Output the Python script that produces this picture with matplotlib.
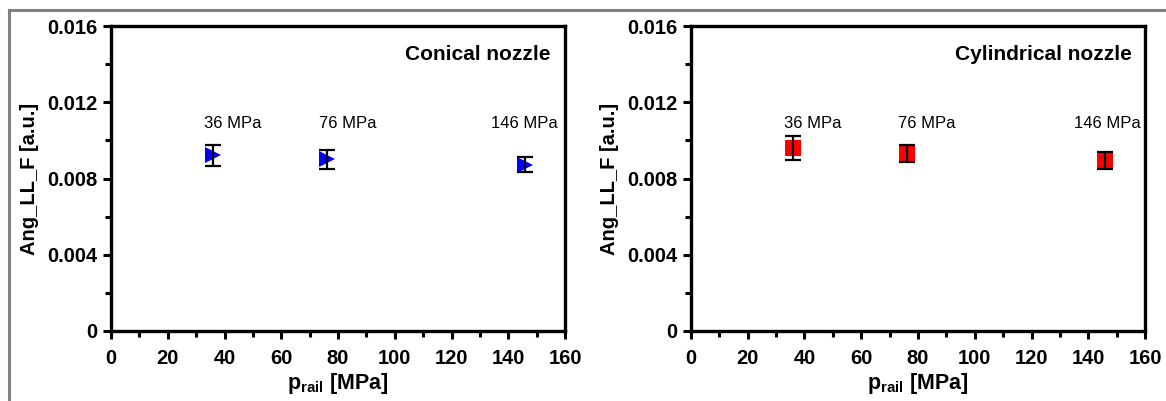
import matplotlib
matplotlib.use("Agg")
import matplotlib.pyplot as plt
from matplotlib.lines import Line2D
from matplotlib.ticker import MultipleLocator, FixedLocator, FixedFormatter

plt.rcParams['font.family'] = ['Liberation Sans', 'DejaVu Sans']
plt.rcParams['mathtext.fontset'] = 'custom'
plt.rcParams['mathtext.bf'] = 'Liberation Sans:bold'
plt.rcParams['mathtext.rm'] = 'Liberation Sans:bold'

# Data
p_rail = [36, 76, 146]
pressure_labels = ["36 MPa", "76 MPa", "146 MPa"]
conical_vals = [0.00922, 0.00900, 0.00873]
conical_err = [0.00055, 0.00048, 0.00041]
cyl_vals = [0.00958, 0.00930, 0.00895]
cyl_err = [0.00063, 0.00046, 0.00045]
panel_titles = ["Conical nozzle", "Cylindrical nozzle"]
y_ticks = [0, 0.004, 0.008, 0.012, 0.016]
y_ticklabels = ["0", "0.004", "0.008", "0.012", "0.016"]
x_ticks = [0, 20, 40, 60, 80, 100, 120, 140, 160]

W, H = 1166, 401
fig = plt.figure(figsize=(W / 100, H / 100), dpi=100)
fig.patch.set_facecolor('white')

# grey frame (top and left)
fig.add_artist(Line2D([9 / W, 1.0], [1 - 9.5 / H, 1 - 9.5 / H], color='#808080', lw=2.2, transform=fig.transFigure))
fig.add_artist(Line2D([9 / W, 9 / W], [1 - 9.5 / H, 0.0], color='#808080', lw=2.2, transform=fig.transFigure))

ax1 = fig.add_axes([111 / W, 1 - 331 / H, 454 / W, 305 / H])
ax2 = fig.add_axes([691 / W, 1 - 331 / H, 454 / W, 305 / H])

series = [
    (ax1, conical_vals, conical_err, '>', '#0000ff', 11, panel_titles[0], 0.967, [32.8, 73.3, 134.0]),
    (ax2, cyl_vals, cyl_err, 's', '#ff0000', 11, panel_titles[1], 0.972, [32.9, 72.8, 135.1]),
]

for ax, vals, errs, mk, col, ms, title, tx, lab_x in series:
    ax.plot(p_rail, vals, linestyle='none', marker=mk, color=col, markersize=ms,
            markeredgecolor=col, markeredgewidth=0, zorder=3)
    ax.errorbar(p_rail, vals, yerr=errs, fmt='none', ecolor='black', elinewidth=1.6,
                capsize=6, capthick=1.6, zorder=4)
    ax.set_xlim(0, 160)
    ax.set_ylim(0, 0.016)
    ax.xaxis.set_major_locator(FixedLocator(x_ticks))
    ax.xaxis.set_minor_locator(MultipleLocator(10))
    ax.yaxis.set_major_locator(FixedLocator(y_ticks))
    ax.yaxis.set_major_formatter(FixedFormatter(y_ticklabels))
    ax.yaxis.set_minor_locator(MultipleLocator(0.002))
    for s in ax.spines.values():
        s.set_linewidth(2.4)
    ax.tick_params(which='major', direction='out', length=6, width=2.2, labelsize=14.5)
    ax.tick_params(axis='x', which='major', pad=7)
    ax.tick_params(axis='y', which='major', pad=4)
    ax.tick_params(which='minor', direction='out', length=4, width=2.2)
    ax.tick_params(top=False, right=False, which='both')
    for lbl in ax.get_xticklabels() + ax.get_yticklabels():
        lbl.set_fontweight('bold')
    ax.set_xlabel(r'p$_{\mathbf{rail}}$ [MPa]', fontsize=15.5, fontweight='bold', labelpad=2)
    ax.set_ylabel('Ang_LL_F [a.u.]', fontsize=14.5, fontweight='bold', labelpad=6)
    ax.text(tx, 0.89, title, transform=ax.transAxes, ha='right', va='baseline',
            fontsize=15, fontweight='bold')
    for x, lab in zip(lab_x, pressure_labels):
        ax.text(x, 0.01063, lab, ha='left', va='baseline', fontsize=12)

fig.savefig('out.png', dpi=100, facecolor='white')
